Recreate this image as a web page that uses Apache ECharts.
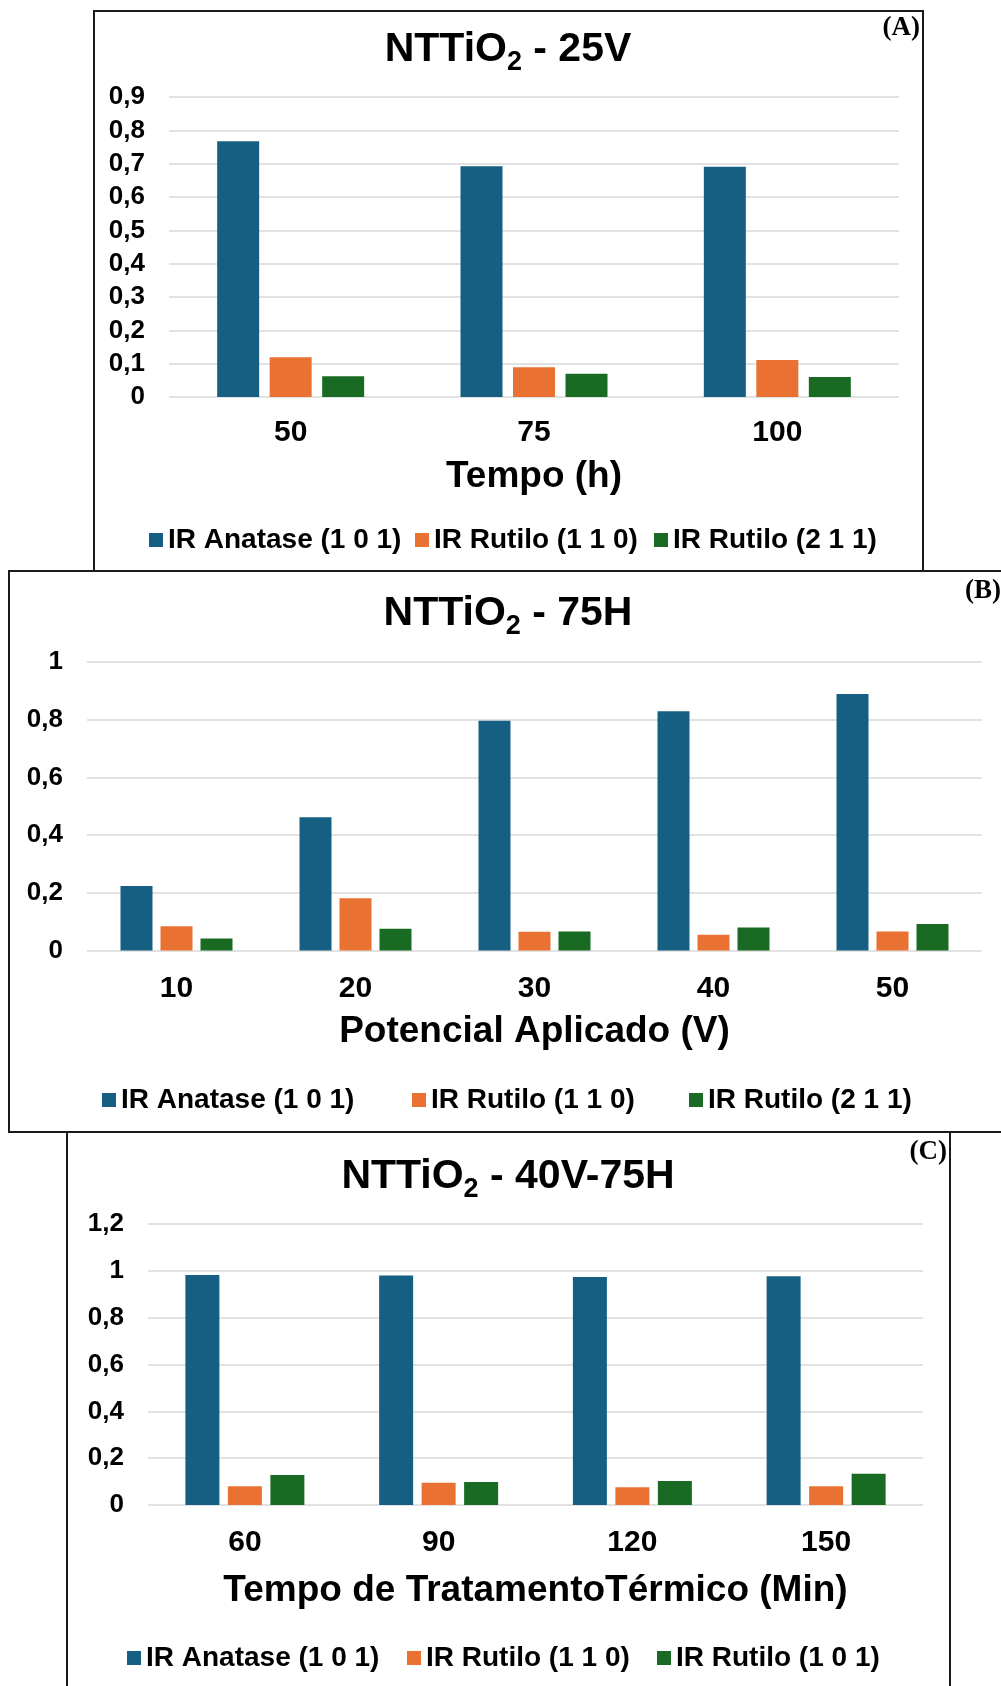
<!DOCTYPE html>
<html>
<head>
<meta charset="utf-8">
<script src="https://cdn.jsdelivr.net/npm/echarts@6/dist/echarts.min.js"></script>
<style>
html,body{margin:0;padding:0;background:#fff;}
#c{width:1001px;height:1686px;}
</style>
</head>
<body>
<div id="c"></div>
<script>
// ---------- DATA ----------
const seriesNamesAB = ['IR Anatase (1 0 1)', 'IR Rutilo (1 1 0)', 'IR Rutilo (2 1 1)'];
const seriesNamesC = ['IR Anatase (1 0 1)', 'IR Rutilo (1 1 0)', 'IR Rutilo (1 0 1)'];

const catsA = ['50', '75', '100'];
const anataseA = [0.767, 0.692, 0.691];
const rutilo110A = [0.119, 0.089, 0.111];
const rutilo211A = [0.062, 0.070, 0.060];

const catsB = ['10', '20', '30', '40', '50'];
const anataseB = [0.224, 0.462, 0.796, 0.829, 0.889];
const rutilo110B = [0.084, 0.181, 0.065, 0.055, 0.066];
const rutilo211B = [0.042, 0.075, 0.066, 0.080, 0.092];

const catsC = ['60', '90', '120', '150'];
const anataseC = [0.982, 0.980, 0.974, 0.977];
const rutilo110C = [0.080, 0.095, 0.076, 0.080];
const rutilo101C = [0.128, 0.098, 0.102, 0.133];

const yTicksA = [0, 0.1, 0.2, 0.3, 0.4, 0.5, 0.6, 0.7, 0.8, 0.9];
const yTicksB = [0, 0.2, 0.4, 0.6, 0.8, 1];
const yTicksC = [0, 0.2, 0.4, 0.6, 0.8, 1, 1.2];

// ---------- STYLE ----------
const FONT = "'Liberation Sans', Arial, sans-serif";
const SERIF = "'Liberation Serif', 'Times New Roman', serif";
const COLORS = ['#156082', '#E97132', '#196B24'];
const GRID_COLOR = '#d9d9d9';

const chart = echarts.init(document.getElementById('c'), null, {renderer: 'canvas'});

const fmt = v => String(Math.round(v * 10) / 10).replace('.', ',');

const panels = [
  {cats: catsA, data: [anataseA, rutilo110A, rutilo211A], names: seriesNamesAB, ticks: yTicksA,
   grid: {left: 169, top: 97, width: 730, height: 300}, barWidth: 42,
   xName: 'Tempo (h)', labelMargin: 21, nameGap: 61,
   legendTop: 526, legendLefts: [149, 415, 654]},
  {cats: catsB, data: [anataseB, rutilo110B, rutilo211B], names: seriesNamesAB, ticks: yTicksB,
   grid: {left: 87, top: 662, width: 895, height: 288.5}, barWidth: 32,
   xName: 'Potencial Aplicado (V)', labelMargin: 23, nameGap: 63,
   legendTop: 1086, legendLefts: [102, 412, 689]},
  {cats: catsC, data: [anataseC, rutilo110C, rutilo101C], names: seriesNamesC, ticks: yTicksC,
   grid: {left: 148, top: 1224, width: 775, height: 281}, barWidth: 34,
   xName: 'Tempo de TratamentoTérmico (Min)', labelMargin: 23, nameGap: 67,
   legendTop: 1644, legendLefts: [127, 407, 657]}
];

const grid = [], xAxis = [], yAxis = [], series = [], legend = [];
panels.forEach((p, i) => {
  grid.push(Object.assign({containLabel: false}, p.grid));
  xAxis.push({
    type: 'category', gridIndex: i, data: p.cats,
    axisLine: {show: false}, axisTick: {show: false},
    axisLabel: {fontFamily: FONT, fontSize: 30, fontWeight: 'bold', color: '#000', margin: p.labelMargin},
    name: p.xName, nameLocation: 'middle', nameGap: p.nameGap,
    nameTextStyle: {fontFamily: FONT, fontSize: 37, fontWeight: 'bold', color: '#000'}
  });
  const tk = p.ticks;
  yAxis.push({
    type: 'value', gridIndex: i, min: tk[0], max: tk[tk.length - 1], interval: tk[1] - tk[0],
    axisLine: {show: false}, axisTick: {show: false},
    axisLabel: {fontFamily: FONT, fontSize: 26, fontWeight: 'bold', color: '#000', margin: 24, formatter: fmt},
    splitLine: {lineStyle: {color: GRID_COLOR, width: 1.5}}
  });
  p.data.forEach((d, j) => {
    series.push({
      type: 'bar', name: p.names[j], xAxisIndex: i, yAxisIndex: i, data: d,
      barWidth: p.barWidth, barGap: '25%',
      itemStyle: {color: COLORS[j]}
    });
    legend.push({
      data: [p.names[j]], left: p.legendLefts[j], top: p.legendTop, padding: 0,
      icon: 'rect', itemWidth: 14, itemHeight: 14, selectedMode: false,
      textStyle: {fontFamily: FONT, fontSize: 28, fontWeight: 'bold', color: '#000'}
    });
  });
});

function titleText(rest, cy) {
  return {
    type: 'text', x: 508, y: cy - 17, z: 10,
    style: {
      text: '{a|NTTiO}{s|2}{a|' + rest + '}',
      align: 'center', verticalAlign: 'top',
      rich: {
        a: {fontFamily: FONT, fontSize: 41, fontWeight: 'bold', fill: '#000', lineHeight: 41, verticalAlign: 'top'},
        s: {fontFamily: FONT, fontSize: 27, fontWeight: 'bold', fill: '#000', lineHeight: 27, verticalAlign: 'top', padding: [20, 0, 0, 0]}
      }
    }
  };
}
function letter(txt, x, cy, align) {
  return {
    type: 'text', x: x, y: cy, z: 10,
    style: {text: txt, fontFamily: SERIF, fontSize: 27, fontWeight: 'bold', fill: '#000', align: align, verticalAlign: 'middle'}
  };
}
function box(x, y, w, h) {
  return {type: 'rect', shape: {x: x, y: y, width: w, height: h}, z: 20,
          style: {fill: 'none', stroke: '#1a1a1a', lineWidth: 2}};
}

chart.setOption({
  backgroundColor: '#ffffff',
  animation: false,
  grid: grid, xAxis: xAxis, yAxis: yAxis, series: series, legend: legend,
  graphic: [
    box(94, 11, 829, 560),
    box(9, 571, 1020, 561),
    box(67, 1132, 883, 600),
    titleText(' - 25V', 46),
    titleText(' - 75H', 610),
    titleText(' - 40V-75H', 1173),
    letter('(A)', 920, 28, 'right'),
    letter('(B)', 965, 591, 'left'),
    letter('(C)', 947, 1152, 'right')
  ]
});
</script>
</body>
</html>
